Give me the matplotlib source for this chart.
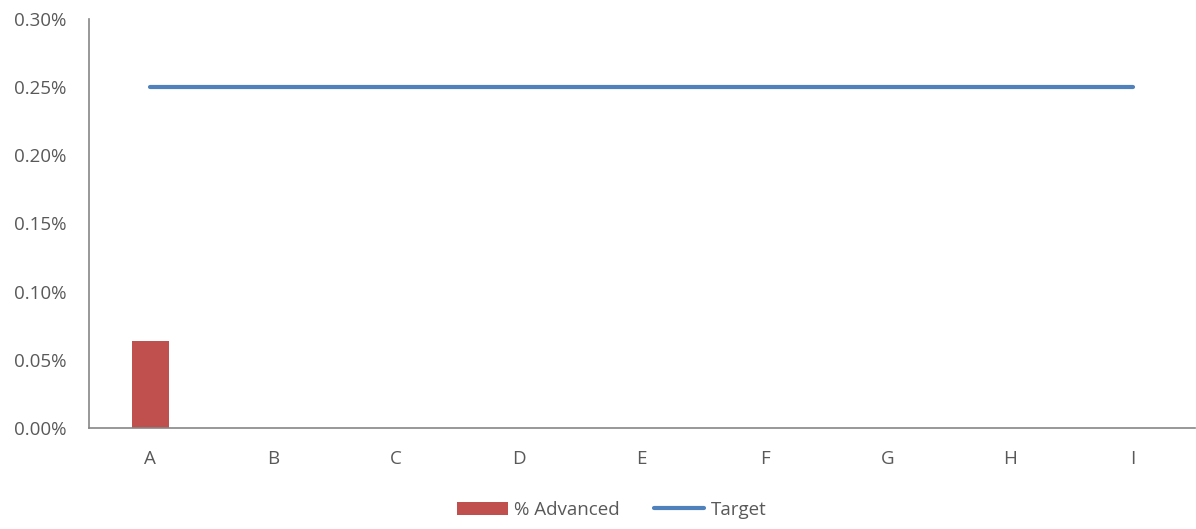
import matplotlib
matplotlib.use("Agg")
import matplotlib.pyplot as plt
from matplotlib.ticker import FuncFormatter, MultipleLocator

categories = ["A", "B", "C", "D", "E", "F", "G", "H", "I"]
pct_advanced = [0.00064, 0, 0, 0, 0, 0, 0, 0, 0]
target = [0.0025] * 9

BAR_COLOR = "#C0504D"
LINE_COLOR = "#4F81BD"
TEXT_COLOR = "#595959"
AXIS_COLOR = "#868686"
FS = 13.5

plt.rcParams["font.family"] = ["Open Sans", "DejaVu Sans"]

fig = plt.figure(figsize=(11.96, 5.29), dpi=100)
ax = fig.add_axes([89 / 1196, 1 - 428 / 529, (1194.5 - 89) / 1196, (428 - 19) / 529])

x = list(range(len(categories)))
bars = ax.bar(x, pct_advanced, width=0.3, color=BAR_COLOR, label="% Advanced", zorder=2)
line, = ax.plot(x, target, color=LINE_COLOR, linewidth=3, solid_capstyle="round",
                label="Target", zorder=3)

ax.set_xlim(-0.5, len(categories) - 0.5)
ax.set_ylim(0, 0.003)
ax.yaxis.set_major_locator(MultipleLocator(0.0005))
ax.yaxis.set_major_formatter(FuncFormatter(lambda v, p: f"{v * 100:.2f}%"))
ax.set_xticks(x)
ax.set_xticklabels(categories)

for side in ("top", "right"):
    ax.spines[side].set_visible(False)
for side in ("left", "bottom"):
    ax.spines[side].set_color(AXIS_COLOR)
    ax.spines[side].set_linewidth(1.2)

ax.tick_params(axis="both", length=0, labelsize=FS, colors=TEXT_COLOR)
ax.tick_params(axis="y", pad=16)
ax.tick_params(axis="x", pad=16)

fig.legend([bars, line], ["% Advanced", "Target"], loc="center",
           bbox_to_anchor=(612 / 1196, 1 - 510 / 529), ncol=2,
           frameon=False, fontsize=FS, labelcolor=TEXT_COLOR,
           handlelength=2.7, handletextpad=0.35, columnspacing=1.8)

fig.savefig("out.png", dpi=100)
